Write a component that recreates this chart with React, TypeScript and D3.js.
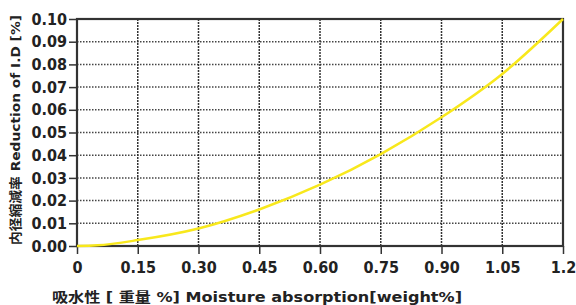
import React, { useRef, useEffect } from 'react';
import * as d3 from 'd3';

// Moisture absorption [weight %] vs reduction of I.D [%]
const absorption = [0, 0.05, 0.15, 0.3, 0.45, 0.6, 0.75, 0.9, 1.05, 1.2];
const reduction = [0, 0.0003, 0.0026, 0.0077, 0.0161, 0.027, 0.0405, 0.0567, 0.0758, 0.1];

const xTicks = [0, 0.15, 0.3, 0.45, 0.6, 0.75, 0.9, 1.05, 1.2];
const xTickLabels = ['0', '0.15', '0.30', '0.45', '0.60', '0.75', '0.90', '1.05', '1.2'];
const yTicks = [0, 0.01, 0.02, 0.03, 0.04, 0.05, 0.06, 0.07, 0.08, 0.09, 0.1];

const xTitle = '吸水性 [ 重量 %] Moisture absorption[weight%]';
const yTitle = '内径縮減率 Reduction of I.D [%]';

const App: React.FC = () => {
  const ref = useRef<SVGSVGElement | null>(null);
  const width = 576;
  const height = 305;

  useEffect(() => {
    if (!ref.current) return;
    const svg = d3.select(ref.current);
    svg.selectAll('*').remove();

    const margin = { left: 77, right: 13, top: 19, bottom: 59 };
    const font = '"DejaVu Sans Condensed", "DejaVu Sans", sans-serif';
    const titleFont = '"DejaVu Sans", "Noto Sans CJK JP", sans-serif';

    const x = d3.scaleLinear().domain([0, 1.2]).range([margin.left, width - margin.right]);
    const y = d3.scaleLinear().domain([0, 0.1]).range([height - margin.bottom, margin.top]);

    svg.append('rect').attr('width', width).attr('height', height).attr('fill', '#fff');

    // Horizontal dotted grid
    svg.append('g')
      .selectAll('line')
      .data(yTicks)
      .enter()
      .append('line')
      .attr('x1', x(0))
      .attr('x2', x(1.2))
      .attr('y1', d => y(d))
      .attr('y2', d => y(d))
      .attr('stroke', '#444')
      .attr('stroke-width', 1.5)
      .attr('stroke-dasharray', '1.5,1.5');

    // Vertical grid
    svg.append('g')
      .selectAll('line')
      .data(xTicks)
      .enter()
      .append('line')
      .attr('x1', d => x(d))
      .attr('x2', d => x(d))
      .attr('y1', y(0))
      .attr('y2', y(0.1))
      .attr('stroke', '#333')
      .attr('stroke-width', 1.5)
      .attr('stroke-dasharray', '2,1');

    // Frame
    svg.append('rect')
      .attr('x', x(0))
      .attr('y', y(0.1))
      .attr('width', x(1.2) - x(0))
      .attr('height', y(0) - y(0.1))
      .attr('fill', 'none')
      .attr('stroke', '#333')
      .attr('stroke-width', 2.2);

    // Axes
    const xAxis = d3.axisBottom(x)
      .tickValues(xTicks)
      .tickSize(8)
      .tickPadding(8)
      .tickFormat((d, i) => xTickLabels[i]);
    const gx = svg.append('g').attr('transform', `translate(0,${y(0)})`).call(xAxis);
    gx.select('.domain').remove();
    gx.selectAll('line').attr('stroke', '#333').attr('stroke-width', 1.5);
    gx.selectAll('text')
      .attr('font-family', font)
      .attr('font-weight', 'bold')
      .attr('font-size', 16)
      .attr('fill', '#222');

    const yAxis = d3.axisLeft(y)
      .tickValues(yTicks)
      .tickSize(8)
      .tickPadding(2)
      .tickFormat(d3.format('.2f'));
    const gy = svg.append('g').attr('transform', `translate(${x(0)},0)`).call(yAxis);
    gy.select('.domain').remove();
    gy.selectAll('line').attr('stroke', '#333').attr('stroke-width', 1.5);
    gy.selectAll('text')
      .attr('font-family', font)
      .attr('font-weight', 'bold')
      .attr('font-size', 16)
      .attr('fill', '#222');

    // Curve
    const line = d3.line<number>()
      .x((d, i) => x(absorption[i]))
      .y(d => y(d))
      .curve(d3.curveMonotoneX);
    svg.append('path')
      .datum(reduction)
      .attr('d', line)
      .attr('fill', 'none')
      .attr('stroke', '#f8e81c')
      .attr('stroke-width', 2.5);

    // Titles
    svg.append('text')
      .attr('x', 52)
      .attr('y', 302)
      .attr('font-family', titleFont)
      .attr('font-weight', 'bold')
      .attr('font-size', 14)
      .attr('textLength', 410)
      .attr('lengthAdjust', 'spacingAndGlyphs')
      .attr('fill', '#222')
      .text(xTitle);

    svg.append('text')
      .attr('transform', `translate(20,245) rotate(-90)`)
      .attr('font-family', titleFont)
      .attr('font-weight', 'bold')
      .attr('font-size', 13)
      .attr('textLength', 230)
      .attr('lengthAdjust', 'spacingAndGlyphs')
      .attr('fill', '#222')
      .text(yTitle);
  }, []);

  return (
    <div style={{ position: 'absolute', left: 0, top: 0 }}>
      <svg ref={ref} width={width} height={height} style={{ display: 'block' }} />
    </div>
  );
};

export default App;
